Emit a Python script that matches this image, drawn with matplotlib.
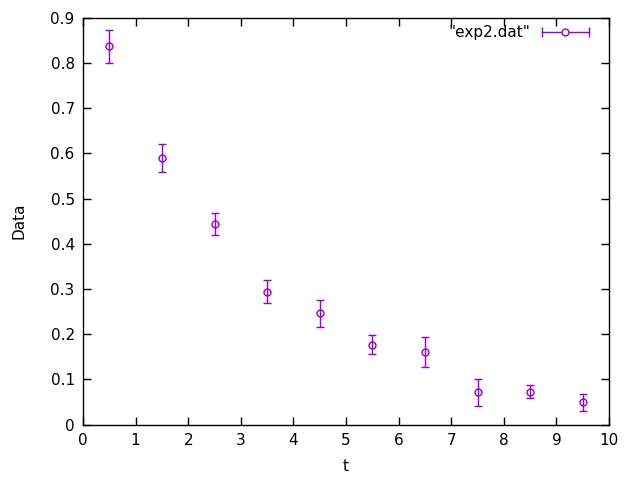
import matplotlib
matplotlib.use("Agg")
import matplotlib.pyplot as plt
from matplotlib.legend_handler import HandlerBase
from matplotlib.lines import Line2D
import numpy as np

# data (exp2.dat)
t = [0.5, 1.5, 2.5, 3.5, 4.5, 5.5, 6.5, 7.5, 8.5, 9.5]
data = [0.837, 0.590, 0.444, 0.294, 0.246, 0.177, 0.161, 0.071, 0.073, 0.049]
err = [0.037, 0.032, 0.025, 0.026, 0.030, 0.021, 0.033, 0.030, 0.015, 0.018]

color = '#9400d3'


class GnuplotErrKey(HandlerBase):
    # gnuplot-style key sample: |---o---|
    def create_artists(self, legend, orig_handle, xdescent, ydescent,
                       width, height, fontsize, trans):
        y = height / 2 - ydescent
        x0, x1 = -xdescent, width - xdescent
        line = Line2D([x0, x1], [y, y], color=color, lw=1, transform=trans)
        caps = Line2D([x0, x1], [y, y], ls='none', marker='|', ms=7, mew=1,
                      color=color, transform=trans)
        dot = Line2D([(x0 + x1) / 2], [y], ls='none', marker='o', ms=5,
                     mfc='white', mec=color, mew=1, transform=trans)
        return [line, caps, dot]


fig = plt.figure(figsize=(6.4, 4.8), dpi=100)
ax = fig.add_axes([0.1297, 0.1156, 0.8219, 0.847])

eb = ax.errorbar(t, data, yerr=err, fmt='o', color=color, mfc='none', mec=color,
                 ms=5, mew=1, elinewidth=1, capsize=3, capthick=1)

ax.set_xlim(0, 10)
ax.set_ylim(0, 0.9)
ax.set_xticks(np.arange(0, 11, 1))
ax.set_yticks(np.arange(0, 0.91, 0.1))
ax.set_yticklabels(['0'] + ['%.1f' % v for v in np.arange(0.1, 0.91, 0.1)])
ax.tick_params(direction='in', top=True, right=True, length=6, width=1,
               labelsize=11, pad=6)
for s in ax.spines.values():
    s.set_linewidth(1)

ax.set_xlabel('t', fontsize=11, labelpad=8)
ax.set_ylabel('Data', fontsize=11, labelpad=17)

ax.legend([eb], ['"exp2.dat"'], handler_map={type(eb): GnuplotErrKey()},
          loc='upper right', frameon=False, fontsize=11, markerfirst=False,
          handlelength=3.1, handletextpad=0.75, borderaxespad=0.4,
          bbox_to_anchor=(0.985, 1.012))

fig.savefig('out.png', dpi=100)
